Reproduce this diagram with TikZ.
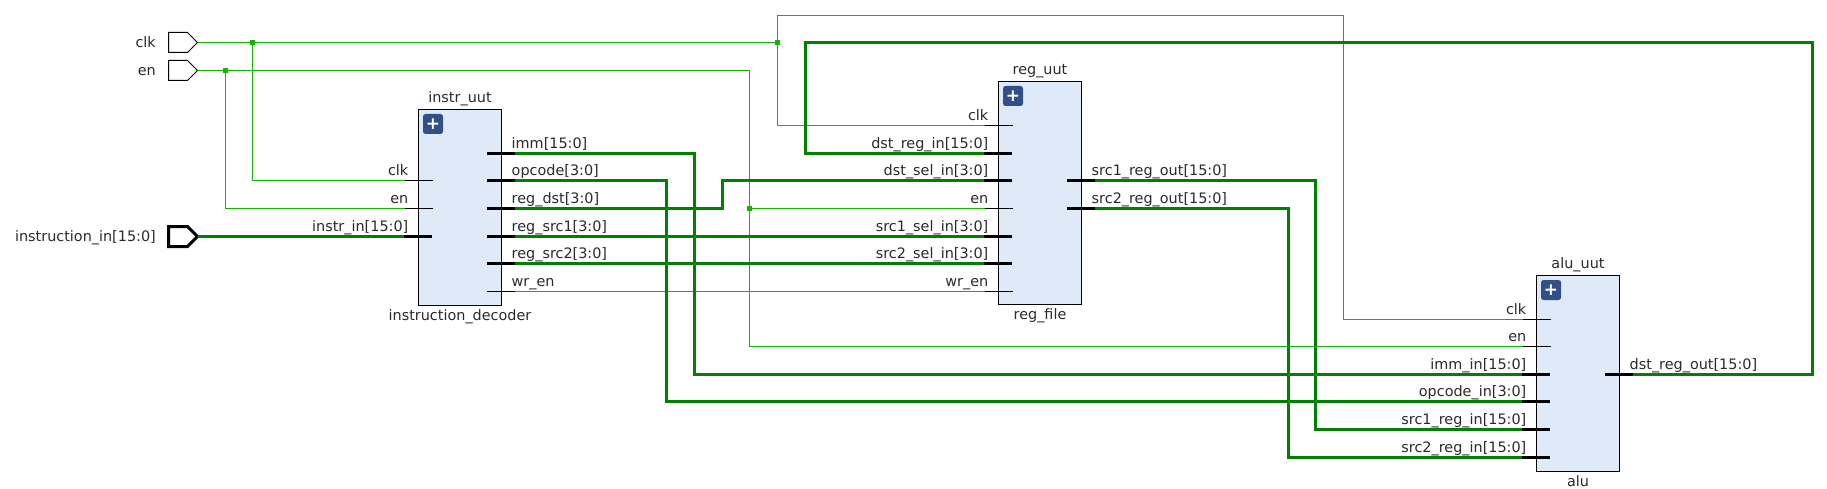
\documentclass[tikz,border=0pt]{standalone}
\usepackage{fontspec}
\setmainfont{DejaVu Sans}
\definecolor{wirethin}{HTML}{14B400}
\definecolor{wirebus}{HTML}{008000}
\definecolor{blockfill}{HTML}{DEEAF8}
\definecolor{plusfill}{HTML}{334F87}
\definecolor{labeltext}{HTML}{2A2A2A}
\tikzset{
  thinwire/.style={wirethin, line width=1pt},
  buswire/.style={wirebus, line width=3.4pt},
  thinstub/.style={black, line width=1pt},
  busstub/.style={black, line width=3.8pt},
  blockbox/.style={draw=black, fill=blockfill, line width=1pt, anchor=north west, inner sep=0pt, outer sep=0pt},
  plusbox/.style={fill=plusfill, rounded corners=2.5pt, minimum width=20pt, minimum height=20pt,
    inner sep=0pt, outer sep=0pt, anchor=north west, text=white, font=\fontsize{17}{17}\selectfont\bfseries},
  junction/.style={fill=wirethin, minimum size=5pt, inner sep=0pt, outer sep=0pt},
  txt/.style={text=labeltext, font=\fontsize{14.4}{15}\selectfont, inner sep=0pt}
}
\begin{document}
\begin{tikzpicture}[x=1pt, y=-1pt]
\useasboundingbox (0,0) rectangle (1827,489);
%blocks
\node[blockbox, minimum width=83pt, minimum height=196pt] (instr) at (418.5,109.5) {};
\node[blockbox, minimum width=83pt, minimum height=223pt] (reg) at (998.5,81.5) {};
\node[blockbox, minimum width=83pt, minimum height=196pt] (alu) at (1536.5,275.5) {};
%block names
\foreach \b/\top/\bot in {instr/instr\_uut/instruction\_decoder, reg/reg\_uut/reg\_file, alu/alu\_uut/alu}
{
  \node[plusbox] (\b_plus) at ([xshift=4.5pt, yshift=-4.5pt] \b.north west) {+};
  \node[txt, anchor=base] (\b_top) at ([yshift=6.9pt] \b.north) {\top};
  \node[txt, anchor=base] (\b_bot) at ([yshift=-14.5pt] \b.south) {\bot};
}
%top level ports
\foreach \n/\y/\t/\w in {clk/42.5/clk/1pt, en/70.5/en/1pt, instr/236.5/instruction\_in[15:0]/3pt}
{
  \draw[line width=\w, miter limit=10] (168.5,\y-10) -- (187.5,\y-10) -- (197.5,\y) -- (187.5,\y+10) -- (168.5,\y+10) -- cycle;
  \coordinate (pad_\n) at (197.5,\y);
  \node[txt, anchor=base east] (pad_\n_txt) at (156,\y+5.4) {\t};
}
%pins on the left of a block
\foreach \n/\x/\y/\t in {
  instr_clk/418.5/180.5/clk, instr_en/418.5/208.5/en,
  reg_clk/998.5/125.5/clk, reg_en/998.5/208.5/en, reg_wr/998.5/291.5/wr\_en,
  alu_clk/1536.5/319.5/clk, alu_en/1536.5/346.5/en}
{
  \coordinate (\n) at (\x-13.5,\y);
  \coordinate (\n_end) at (\x+14.5,\y);
  \node[txt, anchor=base east] (\n_txt) at (\x-10,\y-5.3) {\t};
}
\foreach \n/\x/\y/\t in {
  instr_in/418.5/236.5/instr\_in[15:0],
  reg_dreg/998.5/153.5/dst\_reg\_in[15:0], reg_dsel/998.5/180.5/dst\_sel\_in[3:0],
  reg_s1/998.5/236.5/src1\_sel\_in[3:0], reg_s2/998.5/263.5/src2\_sel\_in[3:0],
  alu_imm/1536.5/374.5/imm\_in[15:0], alu_op/1536.5/401.5/opcode\_in[3:0],
  alu_s1/1536.5/429.5/src1\_reg\_in[15:0], alu_s2/1536.5/457.5/src2\_reg\_in[15:0]}
{
  \coordinate (\n) at (\x-14.5,\y);
  \coordinate (\n_end) at (\x+13.5,\y);
  \node[txt, anchor=base east] (\n_txt) at (\x-10,\y-5.3) {\t};
}
%pins on the right of a block
\foreach \n/\x/\y/\t in {
  instr_imm/501.5/153.5/imm[15:0], instr_op/501.5/180.5/opcode[3:0],
  instr_dst/501.5/208.5/reg\_dst[3:0], instr_s1/501.5/236.5/reg\_src1[3:0],
  instr_s2/501.5/263.5/reg\_src2[3:0], instr_wr/501.5/291.5/wr\_en,
  reg_o1/1081.5/180.5/src1\_reg\_out[15:0], reg_o2/1081.5/208.5/src2\_reg\_out[15:0],
  alu_out/1619.5/374.5/dst\_reg\_out[15:0]}
{
  \coordinate (\n) at (\x+13.5,\y);
  \coordinate (\n_end) at (\x-14.5,\y);
  \node[txt, anchor=base west] (\n_txt) at (\x+10,\y-5.3) {\t};
}
%clk net
\node[junction] (clk_a) at (252.5,42.5) {};
\node[junction] (clk_b) at (777.5,42.5) {};
\coordinate (clk_top) at (1343.5,15.5);
\draw[thinwire] (pad_clk) -- (clk_a) -- (clk_b);
\draw[thinwire] (clk_a) |- (instr_clk);
\draw[thinwire] (clk_b) |- (reg_clk);
\draw[thinwire] (clk_b) |- (clk_top) |- (alu_clk);
%en net
\node[junction] (en_a) at (225.5,70.5) {};
\node[junction] (en_b) at (749.5,208.5) {};
\coordinate (en_top) at (749.5,70.5);
\draw[thinwire] (pad_en) -- (en_a) -- (en_top) -- (en_b);
\draw[thinwire] (en_a) |- (instr_en);
\draw[thinwire] (en_b) -- (reg_en);
\draw[thinwire] (en_b) |- (alu_en);
%write enable
\draw[thinwire] (instr_wr) -- (reg_wr);
%buses
\coordinate (dst_jog) at (722.5,208.5);
\coordinate (loop_top) at (805.5,42.5);
\coordinate (loop_right) at (1812.5,42.5);
\coordinate (imm_x) at (694.3,153.5);
\coordinate (op_x) at (666.5,180.5);
\coordinate (o1_x) at (1315.5,180.5);
\coordinate (o2_x) at (1288.5,208.5);
\draw[buswire] (pad_instr) -- (instr_in);
\draw[buswire] (instr_s1) -- (reg_s1);
\draw[buswire] (instr_s2) -- (reg_s2);
\draw[buswire] (instr_dst) -- (dst_jog) |- (reg_dsel);
\draw[buswire] (instr_imm) -- (imm_x) |- (alu_imm);
\draw[buswire] (instr_op) -- (op_x) |- (alu_op);
\draw[buswire] (reg_o1) -- (o1_x) |- (alu_s1);
\draw[buswire] (reg_o2) -- (o2_x) |- (alu_s2);
\draw[buswire] (alu_out) -| (loop_right) -- (loop_top) |- (reg_dreg);
%stubs on top of the wires
\foreach \n in {instr_clk, instr_en, reg_clk, reg_en, reg_wr, alu_clk, alu_en, instr_wr}
{
  \draw[thinstub] (\n) -- (\n_end);
}
\foreach \n in {instr_in, reg_dreg, reg_dsel, reg_s1, reg_s2, alu_imm, alu_op, alu_s1, alu_s2,
  instr_imm, instr_op, instr_dst, instr_s1, instr_s2, reg_o1, reg_o2, alu_out}
{
  \draw[busstub] (\n) -- (\n_end);
}
\end{tikzpicture}
\end{document}
